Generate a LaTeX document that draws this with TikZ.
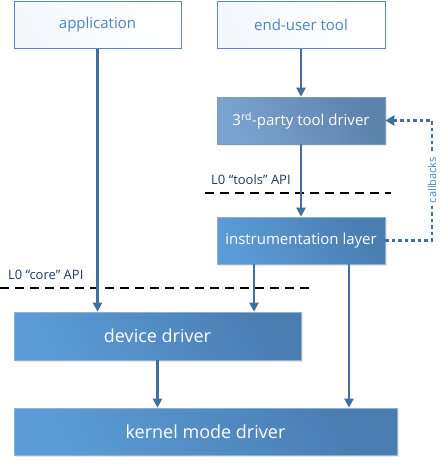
\documentclass[tikz,border=0pt]{standalone}
\usepackage{fontspec}
\setmainfont{Open Sans}
\usetikzlibrary{arrows.meta,shadows}
\definecolor{boxtxt}{HTML}{4A86C4}
\definecolor{boxedge}{HTML}{5A88BC}
\definecolor{arrowc}{HTML}{41709F}
\definecolor{bluelight}{HTML}{5B9BD5}
\definecolor{bluedark}{HTML}{4A7DB2}
\definecolor{greylight}{HTML}{7AA3CF}
\definecolor{greydark}{HTML}{5D82AC}
\definecolor{labeltxt}{HTML}{1F3B63}
\tikzset{
  box/.style={rectangle, inner sep=0pt, anchor=center},
  whitebox/.style={box, draw=boxedge, line width=0.9pt, text=boxtxt,
    left color=white!90!boxtxt!60, right color=white, shading angle=120,
    font=\fontsize{15}{17}\selectfont},
  bluebox/.style={box, draw=bluelight!80!black!60, line width=0.6pt, text=white,
    left color=bluelight, right color=bluedark, shading angle=120,
    drop shadow={opacity=0.18, shadow xshift=1.5pt, shadow yshift=-1.5pt}},
  greybox/.style={box, draw=greydark!80, line width=0.6pt, text=white,
    left color=greylight, right color=greydark, shading angle=120,
    drop shadow={opacity=0.18, shadow xshift=1.5pt, shadow yshift=-1.5pt}},
  flow/.style={draw=arrowc, line width=2.4pt, -{Triangle[width=9pt,length=9pt]}},
  cbline/.style={draw=arrowc, line width=2.4pt, dash pattern=on 3.5pt off 3pt,
    -{Triangle[width=10pt,length=9pt]}},
  apidash/.style={draw=black, line width=1.2pt, dash pattern=on 9pt off 6pt},
  apilabel/.style={anchor=base west, text=labeltxt, inner sep=0pt,
    font=\fontsize{13}{15}\selectfont},
}
\begin{document}
\begin{tikzpicture}[x=1pt,y=-1pt]
  \useasboundingbox (0,0) rectangle (445,464);

  % client layer
  \node[whitebox, minimum width=167pt, minimum height=47pt] (app) at (97.5,25) {application};
  \node[whitebox, minimum width=168pt, minimum height=47pt] (tool) at (301,25) {end-user tool};

  % tooling stack
  \node[greybox, minimum width=168pt, minimum height=47pt,
        font=\fontsize{15}{17}\selectfont] (drv3) at (301,120.5) {3\textsuperscript{rd}-party tool driver};
  \node[bluebox, minimum width=168pt, minimum height=47pt,
        font=\fontsize{15}{17}\selectfont] (instr) at (301,240.5) {instrumentation layer};

  % driver stack
  \node[bluebox, minimum width=287pt, minimum height=48pt,
        font=\fontsize{18}{20}\selectfont] (dev) at (157.5,336) {device driver};
  \node[bluebox, minimum width=383pt, minimum height=47pt,
        font=\fontsize{18}{20}\selectfont] (kmd) at (205.5,431.5) {kernel mode driver};

  % API boundaries
  \coordinate (toolsL) at (205,193);
  \coordinate (toolsR) at (391,193);
  \coordinate (coreL) at (0,288);
  \coordinate (coreR) at (313,288);
  \draw[apidash] (toolsL) -- (toolsR);
  \draw[apidash] (coreL) -- (coreR);
  \node[apilabel] (toolsapi) at (211,184) {L0 “tools” API};
  \node[apilabel] (coreapi) at (8,279) {L0 “core” API};

  % calls
  \draw[flow] (app.south) -- (app.south |- dev.north);
  \draw[flow] (tool.south) -- (drv3.north);
  \draw[flow] (drv3.south) -- (instr.north);
  \draw[flow] ([xshift=-47pt]instr.south) -- ([xshift=-47pt]instr.south |- dev.north);
  \draw[flow] ([xshift=48pt]instr.south) -- ([xshift=48pt]instr.south |- kmd.north);
  \draw[flow] (dev.south) -- (dev.south |- kmd.north);

  % callbacks
  \coordinate (cbturn) at (432,240.5);
  \draw[cbline] (instr.east) -- (cbturn) |- (drv3.east);
  \node[text=boxtxt, rotate=90, font=\fontsize{11}{13}\selectfont, inner sep=0pt]
    (cblabel) at (432,180) {\colorbox{white}{callbacks}};
\end{tikzpicture}
\end{document}
